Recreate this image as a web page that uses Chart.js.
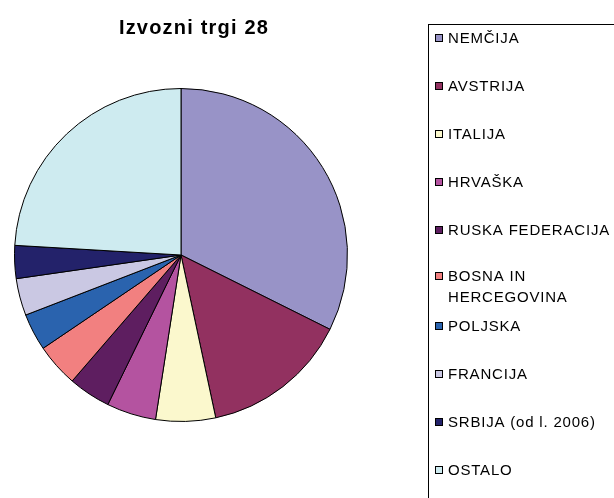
<!DOCTYPE html>
<html lang="sl">
<head>
  <meta charset="utf-8" />
  <title>Izvozni trgi 28</title>
  <script src="https://cdn.jsdelivr.net/npm/chart.js@4.4.1/dist/chart.umd.min.js"></script>
  <style>
    body { margin: 0; background: #ffffff; }
    #wrap { width: 614px; height: 498px; position: relative; overflow: hidden; }
  </style>
</head>
<body>
  <div id="wrap">
    <canvas id="chart" width="614" height="498"></canvas>
  </div>

  <script>
    // Data (share in %)
    const chartTitle = "Izvozni trgi 28";
    const countries = ["NEMČIJA", "AVSTRIJA", "ITALIJA", "HRVAŠKA", "RUSKA FEDERACIJA",
      ["BOSNA IN", "HERCEGOVINA"], "POLJSKA", "FRANCIJA", "SRBIJA (od l. 2006)", "OSTALO"];
    const shares = [32.4, 14.3, 5.8, 4.8, 4.1, 4.2, 3.6, 3.6, 3.2, 24.1];
    const sliceColors = ["#9893c7", "#923160", "#fbf8cd", "#b453a0", "#5e1e60",
      "#f28080", "#2a63ae", "#cac8e3", "#23226a", "#ceebf0"];

    const font = '"Liberation Sans", Arial, sans-serif';

    // title and the old excel style legend box are drawn by hand
    const excelLegend = {
      id: 'excelLegend',
      afterDraw(chart) {
        const ctx = chart.ctx;
        ctx.save();

        // title
        ctx.fillStyle = '#000';
        ctx.font = 'bold 20px ' + font;
        ctx.letterSpacing = '1.2px';
        ctx.textAlign = 'center';
        ctx.textBaseline = 'middle';
        ctx.fillText(chartTitle, 194, 28);

        // legend frame (runs off the right and bottom edge)
        ctx.letterSpacing = '0px';
        ctx.strokeStyle = '#000';
        ctx.lineWidth = 1;
        ctx.strokeRect(428.5, 24.5, 400, 600);

        ctx.font = '15px ' + font;
        ctx.letterSpacing = '0.8px';
        ctx.textAlign = 'left';
        const labels = chart.data.labels;
        const colors = chart.data.datasets[0].backgroundColor;
        for (let i = 0; i < labels.length; i++) {
          let y = 38 + 48 * i;
          let lines = Array.isArray(labels[i]) ? labels[i] : [labels[i]];
          if (lines.length > 1) y -= 2;
          ctx.fillStyle = colors[i];
          ctx.fillRect(435, y - 4, 8, 8);
          ctx.strokeRect(435.5, y - 3.5, 7, 7);
          ctx.fillStyle = '#000';
          lines.forEach(function(t, k) {
            ctx.fillText(t, 448, y + 21 * k + 1);
          });
        }
        ctx.restore();
      }
    };

    new Chart(document.getElementById('chart'), {
      type: 'pie',
      data: {
        labels: countries,
        datasets: [{
          data: shares,
          backgroundColor: sliceColors,
          borderColor: '#000000',
          borderWidth: 1
        }]
      },
      options: {
        responsive: false,
        animation: false,
        layout: { padding: { left: 14, top: 88, right: 266, bottom: 76 } },
        plugins: {
          legend: { display: false },
          title: { display: false },
          tooltip: { enabled: false }
        }
      },
      plugins: [excelLegend]
    });
  </script>
</body>
</html>
